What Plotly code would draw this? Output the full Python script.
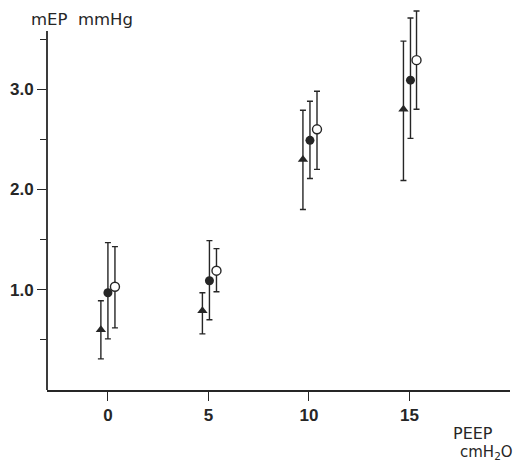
import plotly.graph_objects as go

# Data
peep_ticks = [0, 5, 10, 15]
peep_tick_labels = ["0", "5", "10", "15"]
y_ticks = [1.0, 2.0, 3.0]
y_tick_labels = ["1.0", "2.0", "3.0"]
y_minor_ticks = [0.5, 1.5, 2.5, 3.5]

tri_x = [-0.35, 4.7, 9.7, 14.7]
tri_y = [0.60, 0.79, 2.30, 2.80]
tri_hi = [0.89, 0.97, 2.79, 3.48]
tri_lo = [0.31, 0.56, 1.80, 2.09]

fill_x = [0.0, 5.05, 10.05, 15.05]
fill_y = [0.97, 1.09, 2.49, 3.09]
fill_hi = [1.47, 1.49, 2.88, 3.71]
fill_lo = [0.51, 0.70, 2.11, 2.51]

open_x = [0.35, 5.4, 10.4, 15.35]
open_y = [1.03, 1.19, 2.60, 3.29]
open_hi = [1.43, 1.41, 2.98, 3.78]
open_lo = [0.62, 0.98, 2.20, 2.80]

Y_AXIS_TOP = 3.58

INK = "#262626"
FONT = "DejaVu Sans"
TICKFONT = "Liberation Sans Narrow, Liberation Sans, sans-serif"


def err(y, hi, lo):
    return dict(type="data", symmetric=False,
                array=[h - v for h, v in zip(hi, y)],
                arrayminus=[v - l for v, l in zip(y, lo)],
                color=INK, thickness=1.4, width=3)


fig = go.Figure()
fig.add_trace(go.Scatter(x=tri_x, y=tri_y, mode="markers",
                         marker=dict(symbol="triangle-up", size=9, color=INK),
                         error_y=err(tri_y, tri_hi, tri_lo)))
fig.add_trace(go.Scatter(x=fill_x, y=fill_y, mode="markers",
                         marker=dict(symbol="circle", size=9, color=INK),
                         error_y=err(fill_y, fill_hi, fill_lo)))
fig.add_trace(go.Scatter(x=open_x, y=open_y, mode="markers",
                         marker=dict(symbol="circle", size=9, color="white",
                                     line=dict(color=INK, width=1.4)),
                         error_y=err(open_y, open_hi, open_lo)))

fig.update_layout(
    width=513, height=454,
    margin=dict(l=39, r=11, t=1, b=72),
    paper_bgcolor="white", plot_bgcolor="white",
    showlegend=False,
    font=dict(family=FONT, color=INK, size=14),
    xaxis=dict(range=[-3.03, 20.0], showgrid=False, zeroline=False,
               showline=True, linecolor=INK, linewidth=1.8,
               tickmode="array", tickvals=peep_ticks, ticktext=peep_tick_labels,
               ticks="outside", ticklen=9, tickwidth=1.4, tickcolor=INK,
               tickfont=dict(family=TICKFONT, size=17, color=INK, weight="bold")),
    yaxis=dict(range=[0, 3.8], showgrid=False, zeroline=False,
               showline=False,
               tickmode="array", tickvals=y_ticks, ticktext=y_tick_labels,
               ticks="outside", ticklen=9, tickwidth=1.4, tickcolor=INK,
               tickfont=dict(family=TICKFONT, size=17, color=INK, weight="bold"),
               minor=dict(tickmode="array", tickvals=y_minor_ticks,
                          ticks="outside", ticklen=6, tickwidth=1.2,
                          tickcolor=INK, showgrid=False)),
)

# y axis line (ends below the top of the data range)
fig.add_shape(type="line", xref="paper", yref="y", x0=0, x1=0, y0=0, y1=Y_AXIS_TOP,
              line=dict(color=INK, width=1.8))

fig.add_annotation(text="mEP&nbsp;&nbsp;mmHg", xref="paper", yref="paper",
                   x=-0.039, y=0.943, xanchor="left", yanchor="bottom",
                   showarrow=False, font=dict(family=FONT, size=16.5, color=INK))
fig.add_annotation(text="PEEP", xref="paper", yref="paper",
                   x=0.872, y=-0.084, xanchor="left", yanchor="top",
                   showarrow=False, font=dict(family=FONT, size=16, color=INK))
fig.add_annotation(text="cmH<sub>2</sub>O", xref="paper", yref="paper",
                   x=1.010, y=-0.134, xanchor="right", yanchor="top",
                   showarrow=False, font=dict(family=FONT, size=15, color=INK))

fig.write_html("out.html")
